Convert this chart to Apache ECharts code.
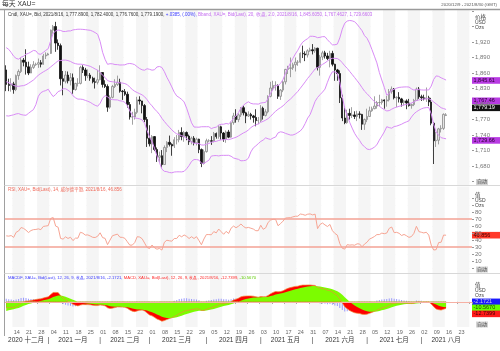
<!DOCTYPE html>
<html>
<head>
<meta charset="utf-8">
<script src="https://cdn.jsdelivr.net/npm/echarts/dist/echarts.min.js"></script>
<style>
  html, body { margin: 0; padding: 0; background: #fff; }
  #main { width: 500px; height: 351px; }
</style>
</head>
<body>
<div id="main"></div>
<script>
// trading days on the axis (weekdays, incl. the empty ones after the last candle)
const monthDays = [
  ['2020-12', [9,10,11,14,15,16,17,18,21,22,23,24,25,28,29,30,31]],
  ['2021-01', [1,4,5,6,7,8,11,12,13,14,15,18,19,20,21,22,25,26,27,28,29]],
  ['2021-02', [1,2,3,4,5,8,9,10,11,12,15,16,17,18,19,22,23,24,25,26]],
  ['2021-03', [1,2,3,4,5,8,9,10,11,12,15,16,17,18,19,22,23,24,25,26,29,30,31]],
  ['2021-04', [1,2,5,6,7,8,9,12,13,14,15,16,19,20,21,22,23,26,27,28,29,30]],
  ['2021-05', [3,4,5,6,7,10,11,12,13,14,17,18,19,20,21,24,25,26,27,28,31]],
  ['2021-06', [1,2,3,4,7,8,9,10,11,14,15,16,17,18,21,22,23,24,25,28,29,30]],
  ['2021-07', [1,2,5,6,7,8,9,12,13,14,15,16,19,20,21,22,23,26,27,28,29,30]],
  ['2021-08', [2,3,4,5,6,9,10,11,12,13,16,17,18,19,20,23,24,25,26,27,30]]
];
const monthNames = ['一月','二月','三月','四月','五月','六月','七月','八月','九月','十月','十一月','十二月'];

// daily candles: [open, close, low, high]
const candles = [
  [1866,1838,1825,1875],[1838,1836,1825,1849],[1836,1839,1824,1850],[1839,1828,1820,1843],[1828,1855,1825,1857],
  [1855,1863,1847,1867],[1863,1885,1860,1890],[1885,1881,1873,1889],[1881,1872,1857,1906],[1872,1860,1856,1882],
  [1860,1871,1860,1877],[1871,1876,1868,1883],[1876,1877,1874,1880],[1877,1880,1870,1888],[1880,1877,1871,1885],
  [1877,1893,1876,1897],[1893,1895,1887,1900],
  [1895,1897,1894,1899],[1898,1943,1897,1944],[1943,1950,1936,1953],[1950,1918,1901,1959],[1918,1913,1905,1925],
  [1913,1849,1836,1917],[1849,1844,1817,1864],[1844,1856,1840,1864],[1856,1845,1840,1863],[1845,1851,1836,1860],
  [1851,1828,1820,1859],[1828,1840,1826,1841],[1840,1840,1834,1850],[1840,1871,1838,1874],[1871,1866,1860,1875],
  [1866,1855,1845,1870],[1855,1856,1850,1867],[1856,1850,1845,1860],[1850,1843,1840,1853],[1843,1842,1830,1851],
  [1842,1847,1838,1866],
  [1847,1861,1846,1875],[1861,1838,1832,1862],[1838,1834,1831,1846],[1834,1794,1785,1838],[1794,1813,1791,1817],
  [1813,1834,1811,1837],[1834,1838,1831,1848],[1838,1842,1835,1855],[1842,1825,1822,1849],[1825,1824,1808,1827],
  [1824,1819,1816,1829],[1819,1799,1793,1824],[1799,1775,1770,1804],[1775,1775,1760,1785],[1775,1784,1770,1791],
  [1784,1808,1781,1814],[1808,1806,1799,1815],[1806,1797,1782,1805],[1797,1770,1765,1800],[1770,1734,1717,1775],
  [1734,1723,1718,1759],[1723,1737,1705,1740],[1737,1712,1709,1738],[1712,1697,1688,1716],[1697,1700,1687,1708],
  [1700,1683,1677,1711],[1683,1716,1683,1720],[1716,1726,1707,1728],[1726,1722,1718,1739],[1722,1719,1700,1724],
  [1719,1731,1715,1736],[1731,1731,1722,1740],[1731,1745,1726,1750],[1745,1737,1730,1755],[1737,1745,1727,1748],
  [1745,1738,1730,1747],[1738,1727,1721,1741],[1727,1734,1722,1737],[1734,1725,1720,1738],[1725,1732,1720,1735],
  [1732,1712,1705,1733],[1712,1685,1678,1714],[1685,1708,1683,1712],
  [1708,1729,1706,1733],[1729,1729,1726,1732],[1729,1728,1721,1738],[1728,1743,1726,1746],[1743,1737,1733,1745],
  [1737,1756,1733,1759],[1756,1744,1731,1758],[1744,1732,1727,1746],[1732,1746,1725,1749],[1746,1736,1734,1750],
  [1736,1764,1735,1766],[1764,1777,1760,1783],[1777,1770,1764,1790],[1770,1779,1765,1782],[1779,1793,1775,1794],
  [1793,1783,1778,1797],[1783,1777,1763,1785],[1777,1780,1775,1786],[1780,1777,1770,1783],[1777,1774,1764,1779],
  [1774,1768,1757,1790],[1768,1768,1761,1775],
  [1768,1792,1765,1798],[1792,1778,1770,1795],[1778,1785,1776,1790],[1785,1815,1782,1817],[1815,1831,1813,1843],
  [1831,1836,1827,1845],[1836,1836,1826,1844],[1836,1815,1810,1838],[1815,1827,1808,1829],[1827,1843,1823,1846],
  [1843,1867,1838,1868],[1867,1869,1858,1874],[1869,1870,1852,1890],[1870,1876,1866,1880],[1876,1881,1863,1890],
  [1881,1881,1874,1885],[1881,1898,1879,1900],[1898,1897,1889,1913],[1897,1895,1883,1902],[1895,1903,1890,1906],
  [1903,1905,1901,1909],
  [1905,1903,1896,1916],[1903,1908,1899,1910],[1908,1871,1865,1909],[1871,1891,1855,1895],[1891,1899,1885,1903],
  [1899,1893,1888,1903],[1893,1888,1885,1899],[1888,1898,1871,1903],[1898,1877,1873,1903],[1877,1866,1845,1878],
  [1866,1859,1845,1868],[1859,1812,1802,1865],[1812,1773,1767,1818],[1773,1764,1761,1795],[1764,1782,1762,1789],
  [1782,1778,1770,1791],[1778,1779,1773,1794],[1779,1776,1771,1786],[1776,1781,1767,1787],[1781,1780,1772,1786],
  [1780,1761,1750,1781],[1761,1770,1750,1772],
  [1770,1776,1765,1791],[1776,1787,1775,1795],[1787,1791,1785,1795],[1791,1796,1790,1815],[1796,1803,1791,1806],
  [1803,1803,1795,1818],[1803,1808,1799,1810],[1808,1806,1791,1809],[1806,1808,1795,1816],[1808,1824,1805,1829],
  [1824,1829,1820,1834],[1829,1812,1809,1831],[1812,1813,1794,1815],[1813,1810,1803,1823],[1810,1803,1795,1812],
  [1803,1806,1797,1808],[1806,1802,1790,1809],[1802,1797,1795,1810],[1797,1799,1791,1801],[1799,1807,1796,1810],
  [1807,1829,1806,1832],[1829,1814,1810,1833],
  [1814,1812,1806,1818],[1812,1810,1807,1818],[1810,1812,1804,1832],[1812,1804,1796,1816],[1804,1763,1759,1812],
  [1763,1729,1684,1765],[1729,1730,1717,1746],[1730,1752,1722,1754],[1752,1753,1745,1759],[1753,1780,1750,1782],
  [1777.89,1779.19,1776.76,1782.40]
];

// closes before the first visible day (Oct 12 - Dec 8 2020), used only to seed the indicators
const priorCloses = [
  1922,1892,1902,1908,1899,1904,1907,1924,1904,1902,1902,1908,1877,1868,1878,
  1895,1908,1904,1948,1951,1862,1877,1866,1873,1888,1888,1880,1872,1866,1871,
  1838,1806,1807,1812,1788,1777,1815,1831,1841,1838,1864,1871
];

// values printed in the panel captions / axis boxes
const bbLast = [1845.605, 1767.4627, 1729.6603];
const lastClose = 1779.19;
const rsiLast = 46.856;
const macdLast = { hist: '-2.1721', signal: '-10.5670', macd: '-12.7399' };

// ---- indicators, same definitions as the source chart (BB 20/2, RSI 14 Wilder, MACD 12/26/9)
const dates = [];
monthDays.forEach(([ym, days]) => days.forEach(d => dates.push(ym + '-' + String(d).padStart(2, '0'))));
const closes = candles.map(c => c[1]);
const all = priorCloses.concat(closes);
const off = priorCloses.length;

const bbUp = [], bbMid = [], bbLow = [];
for (let i = off; i < all.length; i++) {
  const w = all.slice(i - 19, i + 1);
  const m = w.reduce((a, b) => a + b, 0) / 20;
  const sd = Math.sqrt(w.reduce((a, b) => a + (b - m) * (b - m), 0) / 20);
  bbMid.push(+m.toFixed(2)); bbUp.push(+(m + 2 * sd).toFixed(2)); bbLow.push(+(m - 2 * sd).toFixed(2));
}

const rsi = [];
let ag = 0, al = 0;
for (let i = 1; i < all.length; i++) {
  const d = all[i] - all[i - 1];
  const g = Math.max(d, 0), l = Math.max(-d, 0);
  if (i <= 14) { ag += g / 14; al += l / 14; }
  else { ag = (ag * 13 + g) / 14; al = (al * 13 + l) / 14; }
  if (i >= off) rsi.push(+(100 - 100 / (1 + ag / al)).toFixed(2));
}

const macd = [], signal = [], hist = [];
let e12 = all[0], e26 = all[0], sig = 0;
for (let i = 0; i < all.length; i++) {
  e12 += (all[i] - e12) * 2 / 13;
  e26 += (all[i] - e26) * 2 / 27;
  const m = e12 - e26;
  sig = i === 0 ? m : sig + (m - sig) * 2 / 10;
  if (i >= off) { macd.push(+m.toFixed(2)); signal.push(+sig.toFixed(2)); hist.push(+(m - sig).toFixed(2)); }
}

// ---- chart
const FONT = '"Liberation Sans", "Noto Sans CJK SC", sans-serif';
const isMonday = (i, v) => new Date(v + 'T00:00:00Z').getUTCDay() === 1;
const monthStart = {}, monthMid = {};
let idx = 0;
monthDays.forEach(([ym, days]) => {
  if (idx > 0) monthStart[idx] = true;
  monthMid[idx + Math.floor(days.length / 2)] = ym;
  idx += days.length;
});

const L = 5, R = 28;
const grids = [
  { left: L, right: R, top: 10, bottom: 351 - 185.5 },
  { left: L, right: R, top: 186.5, bottom: 351 - 273 },
  { left: L, right: R, top: 274, bottom: 351 - 327 },
  { left: L, right: R, top: 11, bottom: 351 - 181.6 },
  { left: L, right: R, top: 198, bottom: 351 - 268 },
  { left: L, right: R, top: 283, bottom: 351 - 327 }
];

// weekly bands: the part before the first Monday is white, then gray / white by week
const bgX = g => ({
  type: 'category', gridIndex: g, data: dates, boundaryGap: true,
  axisLine: { show: false }, axisTick: { show: false }, axisLabel: { show: false },
  splitLine: { show: false },
  splitArea: { show: true, interval: isMonday, areaStyle: { color: ['#ffffff', '#f5f5f5'] } }
});
const plainX = g => ({
  type: 'category', gridIndex: g, data: dates, boundaryGap: true,
  axisLine: { show: false }, axisTick: { show: false }, axisLabel: { show: false },
  splitLine: { show: false }, splitArea: { show: false }
});
const bgY = g => ({ type: 'value', gridIndex: g, show: false });

const rightLabel = { color: '#777', fontSize: 6, fontFamily: FONT, margin: 3 };

const chart = echarts.init(document.getElementById('main'));
chart.setOption({
  animation: false,
  backgroundColor: '#fff',
  grid: grids,
  xAxis: [
    bgX(0), bgX(1), bgX(2), plainX(3), plainX(4),
    {
      type: 'category', gridIndex: 5, data: dates, boundaryGap: true,
      axisLine: { show: true, lineStyle: { color: '#ddd' } },
      axisTick: { show: true, interval: isMonday, length: 2, lineStyle: { color: '#999' } },
      axisLabel: {
        interval: (i, v) => i < dates.length - 1 && isMonday(i, v), formatter: v => v.slice(8), align: 'left',
        color: '#666', fontSize: 5.5, fontFamily: FONT, margin: 3
      },
      splitLine: { show: false }
    },
    {
      type: 'category', gridIndex: 5, data: dates, boundaryGap: true, position: 'bottom', offset: 8,
      axisLine: { show: false }, axisTick: { show: false }, splitLine: { show: false },
      axisLabel: {
        interval: i => !!(monthStart[i] || monthMid[i]),
        formatter: (v, i) => monthStart[i] ? '|' : v.slice(0, 4) + ' ' + monthNames[+v.slice(5, 7) - 1],
        color: '#333', fontSize: 6.5, fontFamily: FONT, margin: 2
      }
    }
  ],
  yAxis: [
    bgY(0), bgY(1), bgY(2),
    {
      type: 'value', gridIndex: 3, position: 'right', min: 1650, max: 1980, interval: 30,
      axisLine: { show: false },
      axisTick: { show: true, length: 2, lineStyle: { color: '#999' } },
      axisLabel: Object.assign({}, rightLabel, {
        formatter: v => (v <= 1650 || v >= 1950) ? '' : v.toLocaleString('en-US')
      }),
      splitLine: { lineStyle: { color: '#ececec', width: 1 } }
    },
    {
      type: 'value', gridIndex: 4, position: 'right', min: 0, max: 100, interval: 10,
      axisLine: { show: false },
      axisTick: { show: true, length: 2, lineStyle: { color: '#999' } },
      axisLabel: Object.assign({}, rightLabel, { formatter: v => (v <= 0 || v >= 90) ? '' : String(v) }),
      splitLine: { lineStyle: { color: '#f0f0f0', width: 1 } }
    },
    {
      type: 'value', gridIndex: 5, position: 'right', min: -48, max: 36,
      axisLine: { show: false }, axisTick: { show: false }, axisLabel: { show: false },
      splitLine: { show: false }
    }
  ],
  series: [
    {
      type: 'candlestick', xAxisIndex: 3, yAxisIndex: 3, data: candles, barWidth: 1.9,
      itemStyle: { color: '#e4e4e4', color0: '#111', borderColor: '#8a8a8a', borderColor0: '#111', borderWidth: 0.8 }
    },
    { type: 'line', xAxisIndex: 3, yAxisIndex: 3, data: bbUp, symbol: 'none', lineStyle: { color: '#d98cf6', width: 1 } },
    { type: 'line', xAxisIndex: 3, yAxisIndex: 3, data: bbMid, symbol: 'none', lineStyle: { color: '#d98cf6', width: 1 } },
    { type: 'line', xAxisIndex: 3, yAxisIndex: 3, data: bbLow, symbol: 'none', lineStyle: { color: '#d98cf6', width: 1 } },
    {
      type: 'line', xAxisIndex: 4, yAxisIndex: 4, data: rsi, symbol: 'none',
      lineStyle: { color: '#f7a594', width: 1 },
      markLine: {
        silent: true, symbol: 'none', label: { show: false },
        lineStyle: { color: '#f3a294', width: 1.6, type: 'solid' },
        data: [{ yAxis: 70 }, { yAxis: 30 }]
      }
    },
    {
      type: 'line', xAxisIndex: 5, yAxisIndex: 5, data: macd, symbol: 'none',
      lineStyle: { width: 0 }, areaStyle: { color: '#ff0000', opacity: 1 }
    },
    {
      type: 'line', xAxisIndex: 5, yAxisIndex: 5, data: signal, symbol: 'none',
      lineStyle: { width: 0 }, areaStyle: { color: '#7cfc00', opacity: 1 },
      markLine: {
        silent: true, symbol: 'none', label: { show: false },
        lineStyle: { color: '#f6b0a4', width: 1.2, type: 'solid' },
        data: [{ yAxis: 0 }]
      }
    },
    {
      type: 'line', xAxisIndex: 5, yAxisIndex: 5, data: macd, symbol: 'none',
      lineStyle: { color: '#f08a3a', width: 0.7 }
    },
    {
      type: 'bar', xAxisIndex: 5, yAxisIndex: 5, data: hist, barWidth: 1,
      itemStyle: { color: 'rgba(120,120,255,0.75)' }
    }
  ]
});

// ---- captions, headers and value boxes
const px = (axis, v) => chart.convertToPixel({ yAxisIndex: axis }, v);
const txt = (x, y, text, o) => ({
  type: 'text', x, y, z: 50, silent: true,
  style: Object.assign({ text, fontFamily: FONT, fontSize: 5, fill: '#555', verticalAlign: 'middle' }, o || {})
});
const line = (x1, y1, x2, y2, color, w) => ({
  type: 'line', z: 40, silent: true, shape: { x1, y1, x2, y2 }, style: { stroke: color, lineWidth: w }
});
const box = (yc, text, bg, fg) => ({
  type: 'group', z: 60, children: [
    { type: 'rect', shape: { x: 472, y: yc - 3.3, width: 28, height: 6.6 }, style: { fill: bg } },
    { type: 'text', x: 473.5, y: yc, style: { text, fill: fg, fontSize: 5.5, fontFamily: FONT, verticalAlign: 'middle' } }
  ]
});
const autoBox = yc => ({
  type: 'group', z: 60, children: [
    { type: 'rect', shape: { x: 476, y: yc - 3, width: 12, height: 6 }, style: { fill: '#d4d4d4' } },
    { type: 'text', x: 477, y: yc, style: { text: '自动', fill: '#444', fontSize: 5, fontFamily: FONT, verticalAlign: 'middle' } }
  ]
});
const header = (y, first) => [txt(475, y, first, { fontSize: 5.5, fill: '#444' }),
  txt(475, y + 5.3, 'USD', { fontSize: 5, fill: '#444' }), txt(475, y + 10.4, 'Ozs', { fontSize: 5, fill: '#444' })];

const closeY = px(3, lastClose) - 7;
const zeroY = px(5, 0);
const g = [
  txt(2, 4.5, '每天 XAU=', { fontSize: 6.8, fill: '#333' }),
  line(0, 9.5, 500, 9.5, '#9a9a9a', 1.5),
  txt(497, 5, '2020/12/9 - 2021/8/30 (GMT)', { fontSize: 4.3, fill: '#555', align: 'right' }),
  line(4.5, 10, 4.5, 336, '#a0a0a0', 1),
  line(4.5, 185.5, 500, 185.5, '#d8d8d8', 1),
  line(4.5, 273.5, 500, 273.5, '#d8d8d8', 1),
  {
    type: 'text', x: 8, y: 14.5, z: 50, silent: true,
    style: {
      fontFamily: FONT, fontSize: 4.5, verticalAlign: 'middle',
      text: '{a|Cndl, XAU=, Bid, 2021/8/16, 1,777.8900, 1,782.4000, 1,776.7600, 1,779.1900, }{b|+.0385, (.00%), }{c|Bband, XAU=, Bid(Last), 20, 收盘, 2.0, 2021/8/16, 1,845.6050, 1,767.4627, 1,729.6603}',
      rich: { a: { fill: '#333', fontSize: 4.5 }, b: { fill: '#3a3aff', fontSize: 4.5 }, c: { fill: '#c46cf0', fontSize: 4.5 } }
    }
  },
  txt(8, 189.5, 'RSI, XAU=, Bid(Last), 14, 威尔德平滑, 2021/8/16, 46.856', { fontSize: 4.5, fill: '#f06a5a' }),
  {
    type: 'text', x: 8, y: 277.5, z: 50, silent: true,
    style: {
      fontFamily: FONT, fontSize: 4.2, verticalAlign: 'middle',
      text: '{b|MACDF, XAU=, Bid(Last), 12, 26, 9, 收盘, 2021/8/16, -2.1721, }{r|MACD, XAU=, Bid(Last), 12, 26, 9, 收盘, 2021/8/16, -12.7399, }{g|-10.5670}',
      rich: { b: { fill: '#3a3aff', fontSize: 4.2 }, r: { fill: '#ff2a2a', fontSize: 4.2 }, g: { fill: '#5ccc00', fontSize: 4.2 } }
    }
  },
  ...header(17, '价格'), ...header(195, '值'), ...header(285, '值'),
  autoBox(182), autoBox(269.5), autoBox(324.5),
  box(px(3, bbLast[0]), '1,845.61', '#b83be3', '#2a0030'),
  box(closeY - 7, '1,767.46', '#b83be3', '#2a0030'),
  box(closeY, '1,779.19', '#111', '#fff'),
  box(px(3, bbLast[2]), '1,729.66', '#b83be3', '#2a0030'),
  box(px(4, rsiLast), '46.856', '#ff3a2a', '#400'),
  box(zeroY, macdLast.hist, '#1a1aff', '#ccd'),
  box(zeroY + 6, macdLast.signal, '#66ff00', '#240'),
  box(zeroY + 12, macdLast.macd, '#ff1a1a', '#400')
];
chart.setOption({ graphic: g });
</script>
</body>
</html>
